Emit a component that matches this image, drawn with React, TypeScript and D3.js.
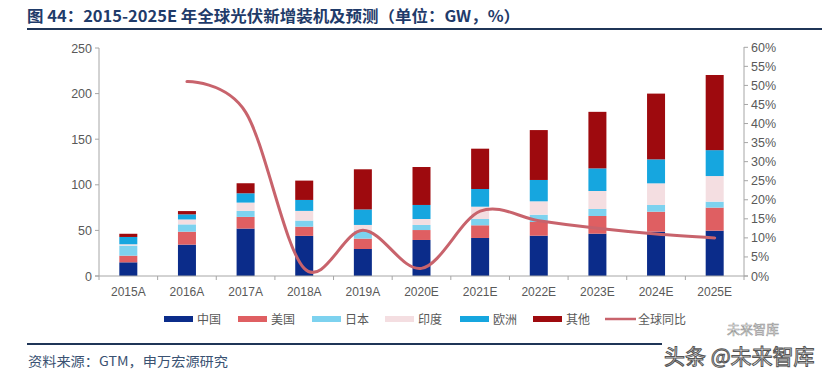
import React from "react";
import * as d3 from "d3";

const categories = ["2015A", "2016A", "2017A", "2018A", "2019A", "2020E", "2021E", "2022E", "2023E", "2024E", "2025E"];
const china = [15, 34.4, 52, 44, 29.6, 39.5, 41.7, 44.2, 46.4, 48.6, 49.7];
const usa = [7.3, 14.2, 12.8, 10.1, 11.4, 10.9, 13.9, 15, 19.4, 21.9, 25.3];
const japan = [11, 8, 6.6, 6.7, 8.7, 5.6, 6.9, 8, 7.7, 7.4, 6.5];
const india = [1.5, 5.4, 9.1, 10.6, 6.3, 6.5, 13.5, 14.7, 19.7, 23.7, 28.1];
const europe = [8, 5.6, 10.2, 12, 17, 15.4, 19.4, 23.4, 24.8, 26.3, 28.4];
const others = [3.5, 3.6, 11, 21.2, 44, 41.6, 44.2, 54.7, 62, 72.1, 82.4];
const growth: (number | null)[] = [null, 51, 43, 2, 12, 2, 17, 14.5, 12.5, 11, 10];

const seriesNames = ["中国", "美国", "日本", "印度", "欧洲", "其他"];
const seriesValues = [china, usa, japan, india, europe, others];
const seriesColors = ["#0B2C8A", "#DF5F62", "#7DD2EF", "#F4DEE1", "#16A6DF", "#9E0A0E"];
const lineName = "全球同比";
const lineColor = "#C8636C";
const leftTicks = [0, 50, 100, 150, 200, 250];
const rightTicks = [0, 5, 10, 15, 20, 25, 30, 35, 40, 45, 50, 55, 60];

export default function App() {
  const W = 827, H = 378;
  const left = 99, right = 744, top = 48, bottom = 276;
  const xb = d3.scaleBand<string>().domain(categories).range([left, right]);
  const y = d3.scaleLinear().domain([0, 250]).range([bottom, top]);
  const y2 = d3.scaleLinear().domain([0, 60]).range([bottom, 47.3]);

  const rows = categories.map((c, i) => {
    const r: any = { cat: c };
    seriesNames.forEach((n, k) => (r[n] = seriesValues[k][i]));
    return r;
  });
  const stacked = d3.stack<any>().keys(seriesNames)(rows);

  const pts = categories
    .map((c, i) => [xb(c)! + xb.bandwidth() / 2, growth[i]] as [number, number | null])
    .filter((p) => p[1] !== null)
    .map((p) => [p[0], y2(p[1] as number)] as [number, number]);
  const linePath = d3.line().curve(d3.curveCardinal.tension(0))(pts) || "";

  const barW = 18;
  const axisColor = "#A6A6A6";
  const textColor = "#595959";
  const font = "'Liberation Sans', Arial, sans-serif";
  const cjk = "'Noto Sans CJK SC', 'Noto Sans', sans-serif";

  const legendItems = [
    { name: "中国", x: 164, color: seriesColors[0] },
    { name: "美国", x: 238, color: seriesColors[1] },
    { name: "日本", x: 312, color: seriesColors[2] },
    { name: "印度", x: 385, color: seriesColors[3] },
    { name: "欧洲", x: 460, color: seriesColors[4] },
    { name: "其他", x: 533, color: seriesColors[5] },
  ];

  return (
    <svg width={W} height={H} style={{ position: "absolute", left: 0, top: 0, background: "#fff" }}>
      <rect x={0} y={0} width={W} height={H} fill="#fff" />
      <text x={27} y={22} fontFamily={cjk} fontSize={15.5} fontWeight="bold" fill="#1F3B6A" textLength={493} lengthAdjust="spacingAndGlyphs">
        图 44：2015-2025E 年全球光伏新增装机及预测（单位：GW，%）
      </text>
      <line x1={27} x2={822} y1={29} y2={29} stroke="#1F3557" strokeWidth={2} />

      {stacked.map((s, k) =>
        s.map((d, i) => (
          <rect
            key={`${k}-${i}`}
            x={xb(categories[i])! + xb.bandwidth() / 2 - barW / 2}
            y={y(d[1])}
            width={barW}
            height={Math.max(0, y(d[0]) - y(d[1]))}
            fill={seriesColors[k]}
          />
        ))
      )}

      <line x1={left} x2={left} y1={top} y2={bottom} stroke={axisColor} />
      <line x1={right} x2={right} y1={47} y2={bottom} stroke={axisColor} />
      <line x1={left - 4} x2={right + 4} y1={bottom} y2={bottom} stroke={axisColor} />
      {leftTicks.map((t) => (
        <g key={`l${t}`}>
          <line x1={left - 4} x2={left} y1={y(t)} y2={y(t)} stroke={axisColor} />
          <text x={left - 7} y={y(t) + 4.5} textAnchor="end" fontFamily={font} fontSize={12.5} fill={textColor}>
            {t}
          </text>
        </g>
      ))}
      {rightTicks.map((t) => (
        <g key={`r${t}`}>
          <line x1={right} x2={right + 4} y1={y2(t)} y2={y2(t)} stroke={axisColor} />
          <text x={right + 7} y={y2(t) + 4.5} fontFamily={font} fontSize={12.5} fill={textColor}>
            {t}%
          </text>
        </g>
      ))}
      {categories.map((c) => (
        <g key={c}>
          <line x1={xb(c)!} x2={xb(c)!} y1={bottom} y2={bottom + 4} stroke={axisColor} />
          <text x={xb(c)! + xb.bandwidth() / 2} y={296} textAnchor="middle" fontFamily={font} fontSize={12} fill={textColor}>
            {c}
          </text>
        </g>
      ))}
      <line x1={right} x2={right} y1={bottom} y2={bottom + 4} stroke={axisColor} />

      <path d={linePath} fill="none" stroke={lineColor} strokeWidth={3} strokeLinecap="round" />

      {legendItems.map((l) => (
        <g key={l.name}>
          <rect x={l.x} y={316} width={29} height={6} fill={l.color} />
          <text x={l.x + 33} y={323.5} fontFamily={cjk} fontSize={12} fill={textColor}>
            {l.name}
          </text>
        </g>
      ))}
      <line x1={605} x2={636} y1={319} y2={319} stroke={lineColor} strokeWidth={2.5} />
      <text x={638} y={323.5} fontFamily={cjk} fontSize={12} fill={textColor}>
        {lineName}
      </text>

      <line x1={27} x2={662} y1={344} y2={344} stroke="#1F3557" strokeWidth={2} />
      <text x={28} y={366} fontFamily={cjk} fontSize={13} fill="#3A5272" textLength={200} lengthAdjust="spacingAndGlyphs">
        资料来源：GTM，申万宏源研究
      </text>

      <text x={727} y={334} fontFamily={cjk} fontSize={13} fill="none" stroke="#999" strokeWidth={0.6}>
        未来智库
      </text>
      <text x={664} y={364} fontFamily={cjk} fontSize={21} fill="#fff" stroke="#555" strokeWidth={1}>
        头条 @未来智库
      </text>
    </svg>
  );
}
